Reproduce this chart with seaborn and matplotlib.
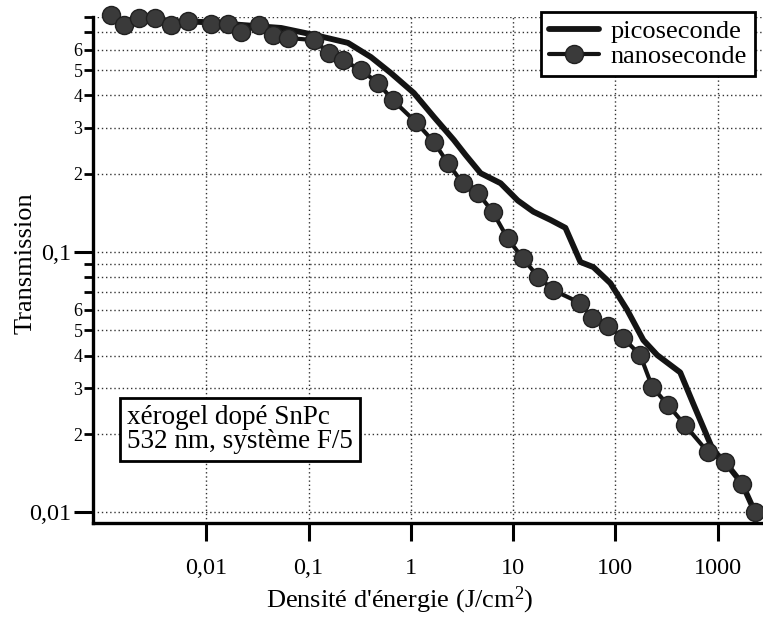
import numpy as np
import pandas as pd
import matplotlib
matplotlib.use("Agg")
import matplotlib.pyplot as plt
import seaborn as sns
from matplotlib.lines import Line2D
from matplotlib.ticker import FixedLocator, FixedFormatter, NullFormatter

# ---------------- data ----------------
nano_x = [0.00116, 0.00158, 0.00222, 0.00318, 0.00456, 0.00667, 0.0112, 0.0164,
          0.0219, 0.0329, 0.0451, 0.0631, 0.113, 0.158, 0.217, 0.325, 0.476,
          0.667, 1.12, 1.68, 2.30, 3.21, 4.50, 6.31, 8.84, 12.4, 17.7, 24.8,
          45.6, 59.7, 85.5, 120, 175, 230, 329, 482, 808, 1183, 1734, 2323]
nano_y = [0.815, 0.746, 0.794, 0.794, 0.746, 0.774, 0.753, 0.753, 0.702, 0.746,
          0.684, 0.665, 0.653, 0.582, 0.547, 0.501, 0.447, 0.384, 0.316, 0.265,
          0.220, 0.184, 0.169, 0.143, 0.113, 0.0948, 0.0802, 0.0714, 0.0637,
          0.0557, 0.0519, 0.0467, 0.0402, 0.0303, 0.0258, 0.0216, 0.0170,
          0.0156, 0.0129, 0.0100]

pico_x = [0.00116, 0.00894, 0.0540, 0.113, 0.243, 0.407, 0.638, 1.07, 1.68,
          2.63, 3.44, 4.82, 7.55, 11.1, 15.8, 23.2, 32.5, 45.6, 61.0, 89.4,
          131, 188, 257, 431, 577, 904, 1183, 1734, 2323]
pico_y = [0.780, 0.767, 0.727, 0.684, 0.637, 0.562, 0.488, 0.409, 0.331, 0.270,
          0.236, 0.201, 0.184, 0.158, 0.143, 0.133, 0.124, 0.0916, 0.0876,
          0.0760, 0.0598, 0.0459, 0.0402, 0.0345, 0.0262, 0.0173, 0.0156,
          0.0129, 0.0100]

x_ticks = [0.01, 0.1, 1, 10, 100, 1000]
x_tick_labels = ["0,01", "0,1", "1", "10", "100", "1000"]
y_major = [0.01, 0.1]
y_major_labels = ["0,01", "0,1"]
y_minor = [0.02, 0.03, 0.04, 0.05, 0.06, 0.07, 0.08, 0.09,
           0.2, 0.3, 0.4, 0.5, 0.6, 0.7, 0.8]
y_minor_labels = ["2", "3", "4", "5", "6", "", "", "",
                  "2", "3", "4", "5", "6", "", ""]

series_names = ["picoseconde", "nanoseconde"]
note_text = "xérogel dopé SnPc\n532 nm, système F/5"
x_label = "Densité d'énergie (J/cm$^{2}$)"
y_label = "Transmission"

df_nano = pd.DataFrame({"E": nano_x, "T": nano_y})
df_pico = pd.DataFrame({"E": pico_x, "T": pico_y})

# ---------------- style ----------------
sns.set_theme(style="white")
plt.rcParams["font.family"] = ["Liberation Serif", "DejaVu Serif"]
plt.rcParams["mathtext.fontset"] = "custom"
plt.rcParams["mathtext.rm"] = "Liberation Serif"
plt.rcParams["mathtext.it"] = "Liberation Serif:italic"

fig = plt.figure(figsize=(7.63, 6.19), dpi=100)
ax = fig.add_axes([93 / 763, 96 / 619, 670 / 763, 506 / 619])

line_col = "#141414"
mark_face = "#3a3a3a"

sns.lineplot(data=df_pico, x="E", y="T", ax=ax, color=line_col, linewidth=4.2,
             sort=False, zorder=3)
sns.lineplot(data=df_nano, x="E", y="T", ax=ax, color=line_col, linewidth=3.0,
             marker="o", markersize=13, markerfacecolor=mark_face,
             markeredgecolor="#202020", markeredgewidth=1.0, sort=False, zorder=4)
for ln in ax.lines:
    ln.set_clip_on(False)

ax.set_xscale("log")
ax.set_yscale("log")
ax.set_xlim(0.00078, 2780)
ax.set_ylim(0.0091, 0.801)

# ticks
ax.xaxis.set_major_locator(FixedLocator(x_ticks))
ax.xaxis.set_major_formatter(FixedFormatter(x_tick_labels))
ax.xaxis.set_minor_locator(FixedLocator([]))
ax.yaxis.set_major_locator(FixedLocator(y_major))
ax.yaxis.set_major_formatter(FixedFormatter(y_major_labels))
ax.yaxis.set_minor_locator(FixedLocator(y_minor))
ax.yaxis.set_minor_formatter(FixedFormatter(y_minor_labels))

ax.tick_params(axis="x", which="major", direction="out", length=13, width=2.2,
               labelsize=17.5, pad=12, colors="black", bottom=True)
ax.tick_params(axis="y", which="major", direction="out", length=14, width=2.2,
               labelsize=17.5, pad=2, colors="black", left=True)
ax.tick_params(axis="y", which="minor", direction="out", length=6.5, width=2.0,
               labelsize=13, pad=1, colors="black", left=True)

# grid
ax.grid(False)
ax.grid(which="major", axis="x", linestyle=(0, (1, 2)), color="#333333", linewidth=1.0)
ax.grid(which="both", axis="y", linestyle=(0, (1, 2)), color="#333333", linewidth=1.0)
ax.set_axisbelow(True)

# spines
for s in ["top", "right"]:
    ax.spines[s].set_visible(False)
for s in ["left", "bottom"]:
    ax.spines[s].set_linewidth(2.4)
    ax.spines[s].set_color("black")

ax.set_xlabel(x_label, fontsize=19, color="black")
ax.set_ylabel(y_label, fontsize=19, color="black")
ax.xaxis.set_label_coords((400 - 93) / 670, -(585 - 523) / 506)
ax.yaxis.set_label_coords(-(93 - 37) / 670, (523 - 263) / 506)

# legend
handles = [
    Line2D([], [], color=line_col, linewidth=4.2),
    Line2D([], [], color=line_col, linewidth=3.0, marker="o", markersize=13,
           markerfacecolor=mark_face, markeredgecolor="#202020"),
]
leg = ax.legend(handles, series_names, loc="upper right",
                bbox_to_anchor=((755 - 93) / 670, (523 - 12) / 506),
                borderaxespad=0, fontsize=19, frameon=True, fancybox=False,
                edgecolor="black", framealpha=1, handlelength=1.9,
                handletextpad=0.45, labelspacing=0.05, borderpad=0.3)
leg.get_frame().set_linewidth(2.0)
leg.set_zorder(10)
for t in leg.get_texts():
    t.set_color("black")

# annotation box
ax.text((240 - 93) / 670, (523 - 429.5) / 506, note_text, transform=ax.transAxes,
        ha="center", va="center", multialignment="left", fontsize=19.5,
        linespacing=1.0, color="black", zorder=9,
        bbox=dict(boxstyle="square,pad=0.25", facecolor="white",
                  edgecolor="black", linewidth=2.0))

fig.savefig("out.png", dpi=100)
